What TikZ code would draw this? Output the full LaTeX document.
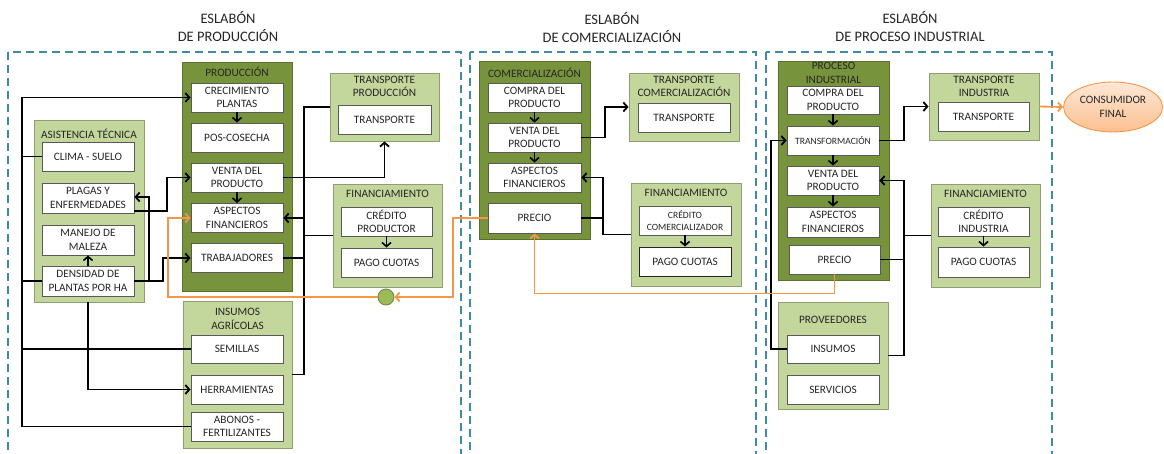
\documentclass[tikz,border=0pt]{standalone}
\usepackage{fontspec}
\setmainfont{Carlito}
\usetikzlibrary{arrows.meta,shapes.geometric}

\definecolor{dkgreen}{HTML}{77933C}
\definecolor{dkedge}{HTML}{5A702C}
\definecolor{ltgreen}{HTML}{C3D69B}
\definecolor{ltedge}{HTML}{8E9E70}
\definecolor{secline}{RGB}{62,140,160}
\definecolor{flow}{HTML}{F79646}
\definecolor{dot}{HTML}{9BBB59}
\definecolor{dotedge}{HTML}{71893F}
\definecolor{ink}{HTML}{262626}

\tikzset{
  cell/.style={draw=black!65, fill=white, line width=0.9pt, minimum width=92pt,
    minimum height=29pt, inner sep=1pt, align=center, text=ink,
    font=\fontsize{11.3}{13.5}\selectfont},
  small/.style={font=\fontsize{9.6}{12}\selectfont},
  stage/.style={draw=dkedge, fill=dkgreen, line width=0.9pt, inner sep=0pt},
  group/.style={draw=ltedge, fill=ltgreen, line width=0.9pt, inner sep=0pt},
  head/.style={text=ink, font=\fontsize{11.3}{13.5}\selectfont, align=center, inner sep=0pt},
  sectitle/.style={text=ink, font=\fontsize{14.5}{18}\selectfont, align=center, inner sep=0pt},
  secbox/.style={draw=secline, line width=1.2pt, dash pattern=on 8pt off 5pt},
  link/.style={draw=black, line width=1.8pt},
  inner/.style={draw=black, line width=1.6pt},
  flowline/.style={draw=flow, line width=1.8pt},
  arrowed/.style={-{Straight Barb[length=4pt,width=9pt]}},
}

\begin{document}
\begin{tikzpicture}[x=1pt,y=-1pt]
\clip (0,0) rectangle (1164,454);

% ---- stage frames ----
\draw[secbox] (8,52) rectangle (461,470);
\draw[secbox] (470,52) rectangle (756,470);
\draw[secbox] (766,52) rectangle (1052,470);

\node[sectitle] (t1) at (228,27) {ESLABÓN\\DE PRODUCCIÓN};
\node[sectitle] (t2) at (612,27) {ESLABÓN\\DE COMERCIALIZACIÓN};
\node[sectitle] (t3) at (910,27) {ESLABÓN\\DE PROCESO INDUSTRIAL};

% ---- production stage ----
\node[stage, minimum width=110, minimum height=229] (prod) at (237,176.5) {};
\node[head] (prodT) at (237,72) {PRODUCCIÓN};
\node[cell] (crec) at (237,97.5) {CRECIMIENTO\\PLANTAS};
\node[cell] (pos) at (237,137.5) {POS-COSECHA};
\node[cell] (venta1) at (237,177.5) {VENTA DEL\\PRODUCTO};
\node[cell] (asp1) at (237,218) {ASPECTOS\\FINANCIEROS};
\node[cell] (trab) at (237,258) {TRABAJADORES};

\node[group, minimum width=110, minimum height=182] (asis) at (89,211) {};
\node[head] (asisT) at (89,134) {ASISTENCIA TÉCNICA};
\node[cell] (clima) at (88,156.5) {CLIMA - SUELO};
\node[cell, minimum height=30] (plagas) at (88,198) {PLAGAS Y\\ENFERMEDADES};
\node[cell, minimum height=30] (manejo) at (88,240) {MANEJO DE\\MALEZA};
\node[cell, minimum height=30] (dens) at (88,281) {DENSIDAD DE\\PLANTAS POR HA};

\node[group, minimum width=109, minimum height=147] (insag) at (237.5,374.5) {};
\node[head] (insagT) at (237.5,319) {INSUMOS\\AGRÍCOLAS};
\node[cell, minimum height=28] (sem) at (237,349) {SEMILLAS};
\node[cell] (herr) at (237,389.5) {HERRAMIENTAS};
\node[cell] (abon) at (237,426.5) {ABONOS -\\FERTILIZANTES};

\node[group, minimum width=109, minimum height=68] (tprod) at (384.5,107) {};
\node[head] (tprodT) at (384.5,86.5) {TRANSPORTE\\PRODUCCIÓN};
\node[cell, minimum width=93] (tprodin) at (384.5,119.5) {TRANSPORTE};

\node[group, minimum width=109, minimum height=103] (fin1) at (387.5,235.5) {};
\node[head] (fin1T) at (387.5,194) {FINANCIAMIENTO};
\node[cell, minimum width=91] (cred1) at (386.5,221.5) {CRÉDITO\\PRODUCTOR};
\node[cell, minimum width=91] (pago1) at (386.5,262.5) {PAGO CUOTAS};
\node[circle, draw=dotedge, fill=dot, line width=0.9pt, minimum size=16, inner sep=0pt] (knot) at (386,297) {};

% ---- commercialisation stage ----
\node[stage, minimum width=111, minimum height=178] (com) at (534.5,150) {};
\node[head] (comT) at (534.5,73) {COMERCIALIZACIÓN};
\node[cell, minimum width=93] (compra2) at (534.5,97.5) {COMPRA DEL\\PRODUCTO};
\node[cell, minimum width=93] (venta2) at (534.5,137.5) {VENTA DEL\\PRODUCTO};
\node[cell, minimum width=93] (asp2) at (534.5,177.5) {ASPECTOS\\FINANCIEROS};
\node[cell, minimum width=93, minimum height=30] (precio2) at (534.5,218) {PRECIO};

\node[group, minimum width=110, minimum height=68] (tcom) at (684,107) {};
\node[head] (tcomT) at (684,86.5) {TRANSPORTE\\COMERCIALIZACIÓN};
\node[cell] (tcomin) at (684,117.5) {TRANSPORTE};

\node[group, minimum width=110, minimum height=103] (fin2) at (686,234.5) {};
\node[head] (fin2T) at (686,193) {FINANCIAMIENTO};
\node[cell, small] (cred2) at (685,220.5) {CRÉDITO\\COMERCIALIZADOR};
\node[cell, draw=black!85] (pago2) at (685,261.5) {PAGO CUOTAS};

% ---- industrial stage ----
\node[stage, minimum width=111, minimum height=219] (proc) at (833.5,170.5) {};
\node[head] (procT) at (833.5,73) {PROCESO\\INDUSTRIAL};
\node[cell, minimum height=28] (compra3) at (833,100) {COMPRA DEL\\PRODUCTO};
\node[cell, small] (transf) at (833,140.5) {TRANSFORMACIÓN};
\node[cell] (venta3) at (833,180.5) {VENTA DEL\\PRODUCTO};
\node[cell, minimum height=30] (asp3) at (833,222) {ASPECTOS\\FINANCIEROS};
\node[cell, minimum width=91] (precio3) at (834.5,259.5) {PRECIO};

\node[group, minimum width=110, minimum height=67] (tind) at (984,106.5) {};
\node[head] (tindT) at (984,86.5) {TRANSPORTE\\INDUSTRIA};
\node[cell, minimum width=91] (tindin) at (983.5,116.5) {TRANSPORTE};

\node[group, minimum width=109, minimum height=103] (fin3) at (985.5,235.5) {};
\node[head] (fin3T) at (985.5,194) {FINANCIAMIENTO};
\node[cell, minimum width=91] (cred3) at (983.5,221.5) {CRÉDITO\\INDUSTRIA};
\node[cell, minimum width=91, minimum height=30] (pago3) at (983.5,262) {PAGO CUOTAS};

\node[group, minimum width=110, minimum height=107] (prov) at (833,355.5) {};
\node[head] (provT) at (833,320) {PROVEEDORES};
\node[cell, minimum height=28] (insumos) at (833,349) {INSUMOS};
\node[cell] (serv) at (833,389.5) {SERVICIOS};

\node[ellipse, draw=flow, line width=0.9pt, top color=flow!22, bottom color=flow!60,
  minimum width=99, minimum height=50, inner sep=0pt, align=center, text=ink,
  font=\fontsize{11.3}{13.5}\selectfont] (cons) at (1113,107) {CONSUMIDOR\\FINAL};

% ---- connectors: production ----
\coordinate (busL) at (22,97.5);
\coordinate (jA) at (149,0);
\coordinate (jB) at (163,0);
\coordinate (jC) at (167,0);
\coordinate (busM) at (304,200);
\coordinate (pIn) at ([yshift=1pt]plagas.east);
\coordinate (pOut) at ([yshift=-13pt]plagas.east);

\draw[link, arrowed] (abon.west) -| (busL) -- (crec.west);
\draw[link] (clima.west) -- (clima.west -| busL);
\draw[link] (dens.west) -- (dens.west -| busL);
\draw[link] (sem.west) -- (sem.west -| busL);
\draw[link, arrowed] (dens.south |- asis.south) |- (herr.west);
\draw[inner, arrowed] (dens.north) -- (manejo.south);
\draw[link, arrowed] (dens.east) -| (jA |- pIn) -- (pIn);
\draw[link, arrowed] (dens.east) -| (jB |- trab.west) -- (trab.west);
\draw[link, arrowed] (pOut) -| (jC |- venta1.west) -- (venta1.west);
\draw[link, arrowed] (venta1.east) -| (tprod.south);
\draw[link] (tprod.west) -| (busM) |- (insag.east);
\draw[link, arrowed] (busM |- asp1.east) -- (asp1.east);
\draw[link] (fin1.west) -- (fin1.west -| busM);
\draw[link] (trab.east) -- (trab.east -| busM);
\draw[inner, arrowed] (crec.south) -- (pos.north);
\draw[inner, arrowed] (venta1.south) -- (asp1.north);
\draw[inner, arrowed] (cred1.south) -- (pago1.north);

% ---- connectors: commercialisation ----
\coordinate (jD) at (605,0);
\coordinate (jE) at (603,0);
\draw[link, arrowed] (venta2.east) -| (jD |- tcom.west) -- (tcom.west);
\draw[link, arrowed] (fin2.west) -| (jE |- asp2.east) -- (asp2.east);
\draw[link] (precio2.east) -- (precio2.east -| jE);
\draw[inner, arrowed] (compra2.south) -- (venta2.north);
\draw[inner, arrowed] (venta2.south) -- (asp2.north);
\draw[inner, arrowed] (cred2.south) -- (pago2.north);

% ---- connectors: industrial ----
\coordinate (jF) at (904,0);
\coordinate (jG) at (771,0);
\draw[link, arrowed] (transf.east) -| (jF |- tind.west) -- (tind.west);
\draw[link, arrowed] (prov.east) -| (jF |- venta3.east) -- (venta3.east);
\draw[link] (fin3.west) -- (fin3.west -| jF);
\draw[link] (precio3.east) -- (precio3.east -| jF);
\draw[link, arrowed] (insumos.west) -| (jG |- transf.west) -- (transf.west);
\draw[inner, arrowed] (compra3.south) -- (transf.north);
\draw[inner, arrowed] (transf.south) -- (venta3.north);
\draw[inner, arrowed] (venta3.south) -- (asp3.north);
\draw[inner, arrowed] (cred3.south) -- (pago3.north);

% ---- price feedback (orange) ----
\coordinate (oA) at (453,0);
\coordinate (oB) at (168,0);
\draw[flowline, arrowed] (precio2.west) -| (oA |- knot.east) -- (knot.east);
\draw[flowline, arrowed] (knot.west) -| (oB |- asp1.west) -- (asp1.west);
\draw[flowline, arrowed] (precio3.south) -- ++(0,19) -| (precio2.south);
\draw[flowline, arrowed] (tind.east) -- (cons.west);
\end{tikzpicture}
\end{document}
